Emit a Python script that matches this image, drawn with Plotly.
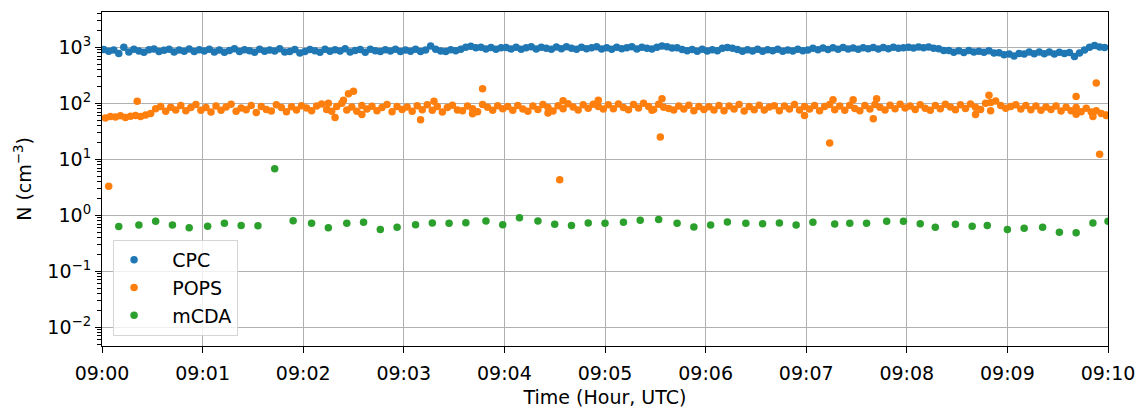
import pandas as pd
import plotly.graph_objects as go

BASE = pd.Timestamp("2024-01-01 09:00:00")

# CPC: one value every 3 s starting at 09:00:01 (cm^-3)
CPC_STEP_S = 3
CPC_START_S = 1
cpc_values = [
    920, 850, 900, 780, 1010, 830, 930, 860, 820, 910, 940, 840, 890, 930, 830, 900, 850, 940, 840, 910,
    860, 930, 830, 900, 820, 880, 950, 840, 910, 870, 820, 930, 850, 900, 860, 950, 830, 840, 920, 790,
    840, 920, 870, 820, 930, 850, 910, 860, 950, 830, 880, 920, 820, 930, 870, 840, 910, 860, 930, 840,
    900, 850, 930, 840, 900, 1060, 930, 860, 840, 910, 870, 930, 1010, 1050, 990, 1010, 940, 1000, 930, 990,
    1000, 940, 1010, 930, 980, 1030, 940, 1010, 960, 930, 1020, 950, 1030, 960, 930, 1010, 950, 980, 1030, 940,
    990, 930, 1010, 950, 990, 1030, 940, 1010, 960, 940, 1010, 1060, 1030, 970, 990, 920, 870, 920, 850, 930,
    860, 910, 870, 960, 1000, 960, 920, 850, 910, 860, 930, 850, 910, 870, 930, 850, 900, 860, 930, 870,
    900, 960, 910, 970, 920, 990, 930, 1000, 940, 970, 930, 990, 950, 1000, 940, 1000, 950, 1010, 960, 990,
    1010, 970, 1020, 990, 1020, 960, 950, 880, 880, 820, 870, 810, 880, 830, 850, 820, 870, 790, 800, 740,
    760, 700, 780, 760, 830, 770, 830, 770, 830, 760, 820, 780, 810, 690, 790, 900, 1010, 1080, 1020, 1000,
]

# POPS: regular samples every 3 s from 09:00:02 plus isolated readings
POPS_STEP_S = 3
POPS_START_S = 2
pops_values = [
    55, 58, 57, 60, 56, 59, 61, 58, 62, 66, 80, 88, 72, 85, 76, 92, 74, 84, 95, 75,
    84, 70, 90, 75, 86, 96, 72, 83, 77, 92, 69, 88, 78, 73, 94, 84, 71, 87, 76, 91,
    83, 74, 90, 97, 78, 72, 88, 100, 76, 86, 72, 92, 79, 89, 74, 84, 95, 71, 88, 78,
    86, 72, 91, 77, 94, 75, 88, 70, 84, 93, 76, 74, 90, 80, 71, 95, 85, 75, 91, 80,
    88, 75, 92, 79, 72, 90, 78, 95, 84, 73, 91, 80, 98, 86, 76, 94, 82, 96, 88, 79,
    94, 80, 97, 84, 77, 95, 83, 100, 88, 78, 96, 85, 81, 76, 90, 79, 93, 74, 88, 78,
    87, 76, 92, 74, 90, 79, 95, 73, 88, 77, 93, 76, 86, 91, 74, 90, 79, 95, 76, 88,
    79, 92, 74, 88, 95, 77, 90, 75, 93, 81, 74, 92, 79, 95, 85, 76, 93, 80, 96, 83,
    90, 78, 94, 82, 75, 92, 80, 96, 86, 77, 94, 81, 97, 85, 78, 100, 104, 110, 92, 82,
    88, 94, 79, 92, 77, 90, 75, 86, 78, 90, 73, 85, 74, 84, 71, 82, 70, 74, 66, 62,
]
pops_extra_s = [4, 21, 135, 139, 144, 147, 150, 155, 190, 198, 221, 227, 266, 273, 275,
                296, 328, 333, 334, 419, 434, 436, 448, 460, 462, 521, 529, 530, 581, 581,
                591, 593, 595, 599]
pops_extra_values = [3.3, 109, 100, 56, 114, 149, 164, 63, 51, 109, 65, 183, 67, 4.3, 111,
                     114, 75, 25, 121, 61, 19.5, 116, 116, 53, 121, 63, 139, 74, 133, 64,
                     58, 231, 12.3, 61]

# mCDA: roughly every 10 s
mcda_s = [10, 22, 32, 42, 52, 63, 73, 83, 93, 103, 114, 125, 135, 146, 156, 166, 176, 187, 197,
          207, 217, 229, 239, 249, 260, 270, 280, 290, 300, 311, 321, 332, 343, 353, 363, 373,
          384, 394, 404, 414, 424, 437, 446, 456, 468, 478, 488, 497, 509, 519, 528, 540, 550,
          561, 571, 581, 591, 600]
mcda_values = [0.63, 0.67, 0.78, 0.67, 0.60, 0.64, 0.72, 0.66, 0.65, 6.8, 0.80, 0.72, 0.60,
               0.72, 0.75, 0.56, 0.61, 0.68, 0.73, 0.72, 0.74, 0.79, 0.68, 0.91, 0.79, 0.69,
               0.66, 0.73, 0.72, 0.75, 0.82, 0.84, 0.72, 0.62, 0.67, 0.76, 0.72, 0.71, 0.73,
               0.67, 0.75, 0.70, 0.72, 0.72, 0.78, 0.78, 0.71, 0.61, 0.69, 0.64, 0.66, 0.56,
               0.59, 0.61, 0.50, 0.49, 0.73, 0.78]

y_tick_vals = [1e-2, 1e-1, 1e0, 1e1, 1e2, 1e3]
y_tick_text = ["10<sup>−2</sup>", "10<sup>−1</sup>", "10<sup>0</sup>",
               "10<sup>1</sup>", "10<sup>2</sup>", "10<sup>3</sup>"]


def to_time(seconds):
    return BASE + pd.to_timedelta(list(seconds), unit="s")


cpc_t = to_time([CPC_START_S + CPC_STEP_S * i for i in range(len(cpc_values))])
pops_t = to_time([POPS_START_S + POPS_STEP_S * i for i in range(len(pops_values))] + pops_extra_s)
pops_all = pops_values + pops_extra_values
mcda_t = to_time(mcda_s)

FONT = "DejaVu Sans"
FS = 19
MS = 7.5
PAD = "\u00a0\u00a0\u00a0"  # extra gap between legend symbol and label

fig = go.Figure()
fig.add_trace(go.Scatter(x=cpc_t, y=cpc_values, mode="markers", name=PAD + "CPC", legendgroup="a",
                         marker=dict(color="#1f77b4", size=MS, line=dict(width=0))))
fig.add_trace(go.Scatter(x=pops_t, y=pops_all, mode="markers", name=PAD + "POPS", legendgroup="b",
                         marker=dict(color="#ff7f0e", size=MS, line=dict(width=0))))
fig.add_trace(go.Scatter(x=mcda_t, y=mcda_values, mode="markers", name=PAD + "mCDA", legendgroup="c",
                         marker=dict(color="#2ca02c", size=MS, line=dict(width=0))))

fig.update_layout(
    width=1137, height=408,
    margin=dict(l=102, r=29, t=12, b=62, autoexpand=False),
    paper_bgcolor="white", plot_bgcolor="white",
    font=dict(family=FONT, size=FS, color="black"),
    showlegend=True,
    legend=dict(x=0.011, y=0.03, xanchor="left", yanchor="bottom",
                bgcolor="rgba(255,255,255,0.8)", bordercolor="#d5d5d5", borderwidth=1,
                font=dict(family=FONT, size=FS),
                traceorder="grouped", tracegroupgap=0),
)

fig.update_xaxes(
    type="date",
    range=[BASE, BASE + pd.Timedelta(minutes=10)],
    dtick=60000, tickformat="%H:%M",
    showgrid=True, gridcolor="#b0b0b0", gridwidth=1,
    showline=True, linecolor="black", linewidth=1.2, mirror=True,
    ticks="outside", ticklen=6, tickcolor="black", ticklabelstandoff=4,
    title=dict(text="Time (Hour, UTC)", standoff=12, font=dict(family=FONT, size=FS)),
    zeroline=False, automargin=False,
)
fig.update_yaxes(
    type="log",
    range=[-2.334, 3.632],
    tickvals=y_tick_vals, ticktext=y_tick_text,
    showgrid=True, gridcolor="#b0b0b0", gridwidth=1,
    showline=True, linecolor="black", linewidth=1.2, mirror=True,
    ticks="outside", ticklen=6, tickcolor="black",
    minor=dict(ticks="outside", ticklen=3.5, tickcolor="black", dtick="D1", showgrid=False),
    title=dict(text="N (cm<sup>−3</sup>)", standoff=10, font=dict(family=FONT, size=FS)),
    zeroline=False, automargin=False,
)

fig.write_html("out.html")
